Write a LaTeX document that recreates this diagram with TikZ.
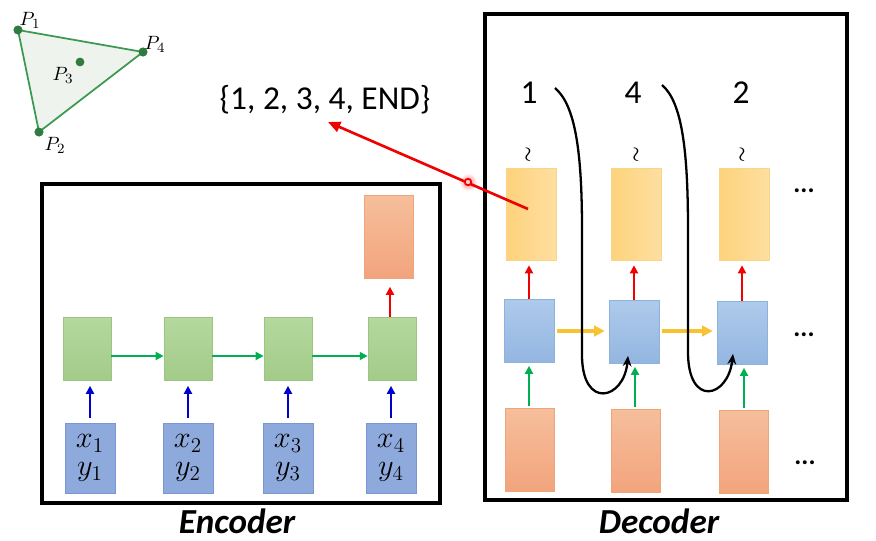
\documentclass[tikz,border=0pt]{standalone}
\usepackage{fontspec}
\newfontfamily\calibri{Carlito}
\usetikzlibrary{arrows.meta,calc}

\definecolor{hidtop}{HTML}{B4D89E}
\definecolor{hidbot}{HTML}{A3CB88}
\definecolor{hidline}{HTML}{9CC581}
\definecolor{xyfill}{HTML}{8EA9DB}
\definecolor{xyline}{HTML}{7B96D2}
\definecolor{saltop}{HTML}{F6BE9C}
\definecolor{salbot}{HTML}{F2A47C}
\definecolor{salline}{HTML}{EFA47A}
\definecolor{goldleft}{HTML}{FDD27C}
\definecolor{goldright}{HTML}{FEDFA0}
\definecolor{goldline}{HTML}{F9D58A}
\definecolor{dhtop}{HTML}{AECAEB}
\definecolor{dhbot}{HTML}{93B6E0}
\definecolor{dhline}{HTML}{8DB2DE}
\definecolor{arrgreen}{HTML}{00B050}
\definecolor{arrblue}{HTML}{0000D0}
\definecolor{arrred}{HTML}{F00000}
\definecolor{arrgold}{HTML}{F8C230}
\definecolor{trigreen}{HTML}{3C9A50}
\definecolor{trifill}{HTML}{EEF3EE}

\newcommand\boxw{1cm}
\newcommand\hidh{1.26cm}
\newcommand\outh{1.66cm}
\newcommand\bigtext{\calibri\fontsize{19}{22}\selectfont}
\newcommand\captext{\calibri\bfseries\itshape\fontsize{20}{22}\selectfont}

\tikzset{
  panel/.style={draw=black,line width=1.8pt},
  hidbox/.style={draw=hidline,top color=hidtop,bottom color=hidbot,minimum width=.96cm,minimum height=\hidh,inner sep=0pt},
  xybox/.style={draw=xyline,fill=xyfill,minimum width=\boxw,minimum height=1.4cm,inner sep=0pt,align=center,font=\fontsize{17}{16}\selectfont},
  salbox/.style={draw=salline,top color=saltop,bottom color=salbot,minimum width=.98cm,minimum height=\outh,inner sep=0pt},
  goldbox/.style={draw=goldline,left color=goldleft,right color=goldright,minimum width=\boxw,minimum height=1.84cm,inner sep=0pt},
  dhbox/.style={draw=dhline,top color=dhtop,bottom color=dhbot,minimum width=\boxw,minimum height=\hidh,inner sep=0pt},
  tip/.style={-{Triangle[length=4.5pt,width=4.5pt]}},
  upblue/.style={tip,draw=arrblue,line width=1.1pt},
  upred/.style={tip,draw=arrred,line width=1.1pt},
  upgreen/.style={tip,draw=arrgreen,line width=1.1pt},
  yellarr/.style={-{Triangle[length=6pt,width=6pt]},draw=arrgold,line width=2pt},
  loopback/.style={-{Stealth[length=6pt,width=5pt]},line width=1.3pt},
  pt/.style={circle,fill=trigreen!80!black,inner sep=0pt,minimum size=5pt},
  plabel/.style={font=\fontsize{11}{13}\selectfont},
  dots/.style={font=\calibri\bfseries\fontsize{15}{16}\selectfont},
  squig/.style={rotate=90,font=\boldmath\fontsize{10}{10}\selectfont,inner sep=0pt},
}

\begin{document}
\begin{tikzpicture}[x=0.02cm,y=-0.02cm]
  \useasboundingbox (0,0) rectangle (876,541);

  % polygon
  \node[pt] (p1) at (18,30) {};
  \node[pt] (p4) at (143,52) {};
  \node[pt] (p2) at (39,132) {};
  \node[pt] (p3) at (80,62) {};
  \filldraw[fill=trifill,draw=trigreen,line width=1pt] (p1.center) -- (p4.center) -- (p2.center) -- cycle;
  \node[pt] at (p1) {};
  \node[pt] at (p4) {};
  \node[pt] at (p2) {};
  \node[pt] at (p3) {};
  \node[plabel] (l1) at (30,20) {$P_1$};
  \node[plabel] (l4) at (155,44) {$P_4$};
  \node[plabel] (l3) at (63,75) {$P_3$};
  \node[plabel] (l2) at (55,145) {$P_2$};

  \node[font=\bigtext] (seq) at (325,100) {\{1, 2, 3, 4, END\}};

  % encoder
  \draw[panel] (42,184) rectangle (440,503);
  \node[font=\captext,inner sep=0pt] (enc) at (237,521) {Encoder};

  \node[hidbox] (e1) at (87,349) {};
  \node[hidbox] (e2) at (188,349) {};
  \node[hidbox] (e3) at (288,349) {};
  \node[hidbox] (e4) at (392,349) {};

  \node[xybox] (in1) at (90,458) {$x_1$\\$y_1$};
  \node[xybox] (in2) at (188,458) {$x_2$\\$y_2$};
  \node[xybox] (in3) at (288,458) {$x_3$\\$y_3$};
  \node[xybox] (in4) at (391,458) {$x_4$\\$y_4$};

  \node[salbox] (eo) at (389,237) {};

  \draw[upblue,shorten <=0.1cm,shorten >=0.1cm] (in1.north) -- (in1.north |- e1.south);
  \draw[upblue,shorten <=0.1cm,shorten >=0.1cm] (in2.north) -- (in2.north |- e2.south);
  \draw[upblue,shorten <=0.1cm,shorten >=0.1cm] (in3.north) -- (in3.north |- e3.south);
  \draw[upblue,shorten <=0.1cm,shorten >=0.1cm] (in4.north) -- (in4.north |- e4.south);

  \draw[upgreen] ($(e1.east)+(0,7)$) -- ($(e1.east -| e2.west)+(0,7)$);
  \draw[upgreen] ($(e2.east)+(0,7)$) -- ($(e2.east -| e3.west)+(0,7)$);
  \draw[upgreen] ($(e3.east)+(0,7)$) -- ($(e3.east -| e4.west)+(0,7)$);

  \draw[upred,shorten >=0.16cm] ($(e4.north)+(-2,0)$) -- ($(e4.north |- eo.south)+(-2,0)$);

  % decoder
  \draw[panel] (485,14) rectangle (847,500);
  \node[font=\captext,inner sep=0pt] (dec) at (659,521) {Decoder};

  \node[font=\bigtext] (n1) at (529,93) {1};
  \node[font=\bigtext] (n2) at (633,93) {4};
  \node[font=\bigtext] (n3) at (741,93) {2};

  \node[squig] (s1) at (529,155) {$\sim$};
  \node[squig] (s2) at (637,155) {$\sim$};
  \node[squig] (s3) at (743,155) {$\sim$};

  \node[goldbox] (g1) at (531,214) {};
  \node[goldbox] (g2) at (636,214) {};
  \node[goldbox] (g3) at (744,214) {};

  \node[dhbox] (dh1) at (529,331) {};
  \node[dhbox] (dh2) at (634,332) {};
  \node[dhbox] (dh3) at (742,333) {};

  \node[salbox] (din1) at (530,450) {};
  \node[salbox] (din2) at (636,451) {};
  \node[salbox] (din3) at (744,452) {};

  \node[dots] (d1) at (804,191) {...};
  \node[dots] (d2) at (804,335) {...};
  \node[dots] (d3) at (805,463) {...};

  \draw[upgreen,shorten <=0.04cm,shorten >=0.06cm] ($(din1.north)+(-1,0)$) -- ($(din1.north |- dh1.south)+(-1,0)$);
  \draw[upgreen,shorten <=0.04cm,shorten >=0.06cm] ($(din2.north)+(-1,0)$) -- ($(din2.north |- dh2.south)+(-1,0)$);
  \draw[upgreen,shorten <=0.04cm,shorten >=0.06cm] (din3.north) -- (din3.north |- dh3.south);

  \draw[upred,shorten >=0.1cm] (dh1.north) -- (dh1.north |- g1.south);
  \draw[upred,shorten >=0.1cm] (dh2.north) -- (dh2.north |- g2.south);
  \draw[upred,shorten >=0.1cm] (dh3.north) -- (dh3.north |- g3.south);

  \draw[yellarr,shorten <=0.06cm,shorten >=0.08cm] (dh1.east) -- (dh1.east -| dh2.west);
  \draw[yellarr,shorten <=0.06cm,shorten >=0.08cm] ($(dh2.east)+(0,-1)$) -- ($(dh2.east -| dh3.west)+(0,-1)$);

  % feedback of the chosen index
  \coordinate (k1) at (555,88);
  \coordinate (k2) at (662,85);
  \draw[loopback] (k1) .. controls (575,105) and (582,150) .. (582,230) -- (582,355)
    .. controls (582,410) and (624,400) .. ($(dh2.south)+(-6,-8)$);
  \draw[loopback] (k2) .. controls (682,102) and (688,150) .. (688,230) -- (688,352)
    .. controls (688,408) and (728,398) .. ($(dh3.south)+(-9,-11)$);

  % pointer
  \node[circle,inner color=red!50,outer color=white,minimum size=0.36cm,inner sep=0pt] (glow) at (468,182) {};
  \coordinate (ptr) at (528,209);
  \draw[-{Triangle[length=7pt,width=6pt]},draw=arrred,line width=1.5pt] (ptr) -- ($(seq.center)+(3,22)$);
  \node[circle,draw=arrred,fill=red!20,line width=1pt,minimum size=0.13cm,inner sep=0pt] (mark) at (glow) {};
\end{tikzpicture}
\end{document}
